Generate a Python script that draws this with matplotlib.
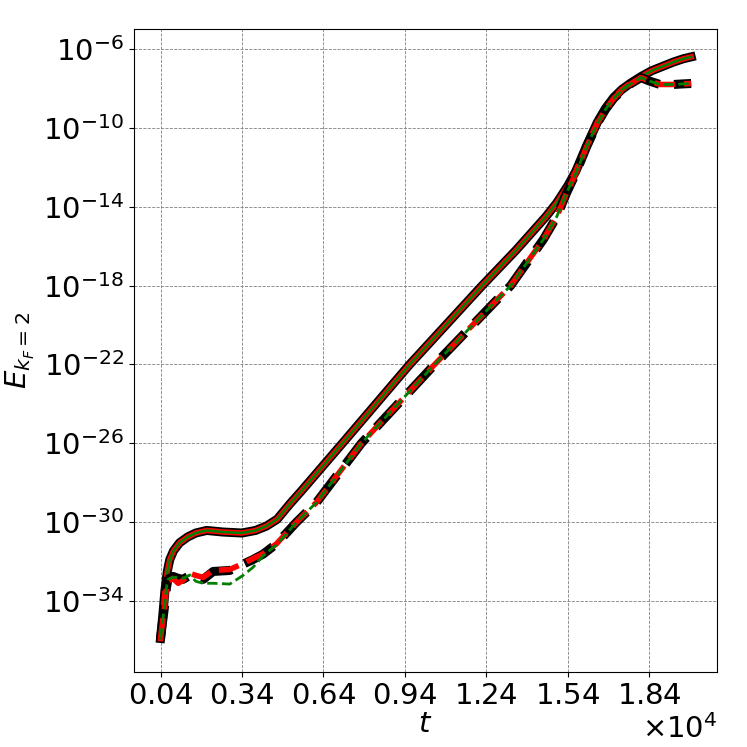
import matplotlib
matplotlib.use('Agg')
import matplotlib.pyplot as plt
import numpy as np

# tempo e expoente (log10) de E
t_sol = [400, 480, 560, 650, 740, 880, 1100, 1400, 1700, 2100, 2700, 3400, 3900, 4300, 4700,
         5150, 5600, 7100, 9580, 12250, 13500, 14600, 15000, 15400, 15700, 16100, 16500,
         16800, 17100, 17400, 17700, 18100, 18500, 18900, 19300, 19650, 19950]
e_sol = [-35.9, -34.8, -33.5, -32.5, -31.9, -31.45, -31.05, -30.75, -30.55, -30.42, -30.5, -30.55,
         -30.42, -30.2, -29.85, -29.1, -28.4, -26.0, -22.0, -18.0, -16.2, -14.5, -13.8, -12.95,
         -12.2, -10.9, -9.7, -9.0, -8.45, -8.05, -7.75, -7.4, -7.1, -6.88, -6.66, -6.5, -6.4]

t_tr = [400, 480, 555, 620, 676, 860, 1050, 1230, 1480, 1700, 1970, 2340, 2950, 3440, 3800,
        4180, 4670, 5410, 6145, 7800, 10500, 13300, 14500, 15000, 15360, 15700, 16100, 16500,
        16800, 17100, 17400, 17700, 18100, 18400, 18800, 19300, 19650, 19950]
e_tr_k = [-35.9, -35.0, -34.2, -33.3, -32.9, -32.75, -32.85, -32.9, -32.7, -32.75, -32.9, -32.5,
          -32.45, -32.13, -31.9, -31.62, -31.1, -30.0, -29.0, -26.0, -22.0, -18.0, -15.67, -14.5,
          -13.3, -12.3, -10.95, -9.75, -9.05, -8.5, -8.1, -7.78, -7.45, -7.62, -7.8, -7.8, -7.77, -7.75]
e_tr_r = [-35.9, -35.0, -34.2, -33.3, -33.0, -32.85, -33.1, -32.95, -32.6, -32.7, -32.8, -32.45,
          -32.4, -32.1, -31.85, -31.6, -31.1, -30.0, -29.0, -26.0, -22.0, -18.0, -15.67, -14.5,
          -13.3, -12.3, -10.95, -9.75, -9.05, -8.5, -8.1, -7.78, -7.45, -7.62, -7.8, -7.8, -7.77, -7.75]
e_tr_g = [-35.9, -35.0, -34.2, -33.3, -32.9, -32.8, -32.8, -32.85, -32.68, -33.0, -33.1, -33.1,
          -33.14, -32.7, -32.3, -31.7, -31.15, -30.0, -29.0, -26.0, -22.0, -18.0, -15.67, -14.5,
          -13.3, -12.3, -10.95, -9.75, -9.05, -8.5, -8.1, -7.78, -7.45, -7.62, -7.8, -7.8, -7.77, -7.75]

xticks = [400, 3400, 6400, 9400, 12400, 15400, 18400]

fig = plt.figure(figsize=(7.47, 7.47), dpi=100)
ax = fig.add_axes([0.179, 0.1004, 0.781, 0.8604])

E = lambda e: 10.0 ** np.array(e)

ax.plot(t_sol, E(e_sol), color='k', linestyle='-', linewidth=6.5)
ax.plot(t_sol, E(e_sol), color='r', linestyle='-', linewidth=4)
ax.plot(t_sol, E(e_sol), color='g', linestyle='-', linewidth=1.8)

ax.plot(t_tr, E(e_tr_k), color='k', linestyle='--', linewidth=6.5)
ax.plot(t_tr, E(e_tr_r), color='r', linestyle='--', linewidth=4)
ax.plot(t_tr, E(e_tr_g), color='g', linestyle='--', linewidth=2)

ax.set_yscale('log')
ax.set_xlim(-588, 20906)
ax.set_ylim(10.0 ** -37.6, 10.0 ** -5.0)
ax.set_yticks([10.0 ** p for p in range(-34, -5, 4)])
ax.minorticks_off()
ax.set_xticks(xticks)
ax.ticklabel_format(axis='x', style='sci', scilimits=(0, 0), useMathText=True)

ax.tick_params(labelsize=21)
ax.xaxis.get_offset_text().set_fontsize(21)
ax.set_xlabel(r'$t$', fontsize=21, labelpad=0)
ax.set_ylabel(r'$E_{k_F=2}$', fontsize=21)
ax.grid(True, color='gray', linestyle='--', linewidth=0.6)

plt.savefig('out.png', dpi=100)
